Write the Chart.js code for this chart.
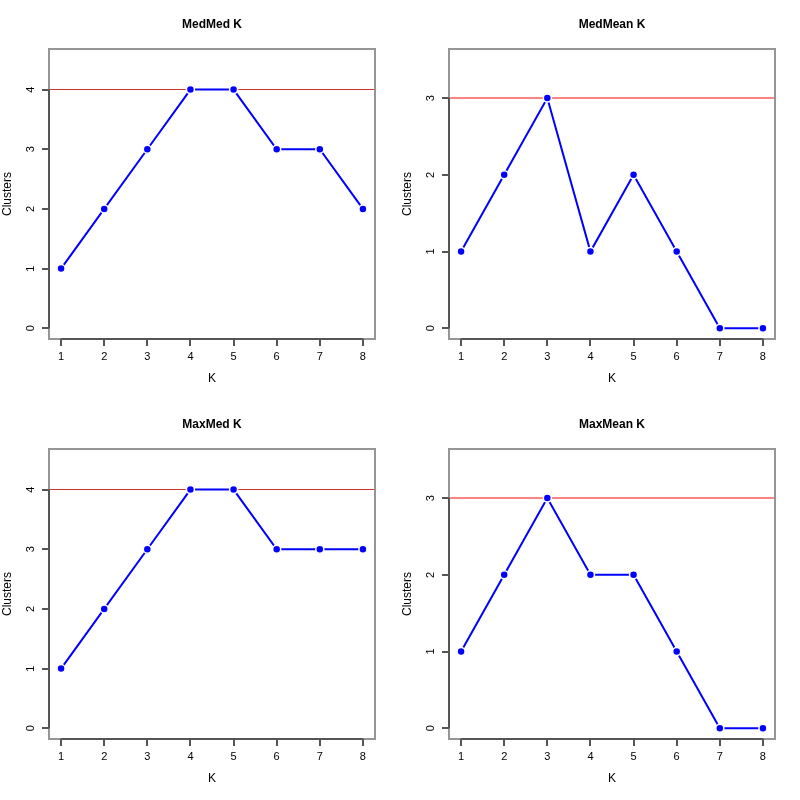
<!DOCTYPE html>
<html>
<head>
<meta charset="utf-8">
<script src="https://cdn.jsdelivr.net/npm/chart.js@4/dist/chart.umd.min.js"></script>
<style>
  html, body { margin: 0; padding: 0; background: #fff; }
  .grid { position: relative; width: 800px; height: 800px; }
  .cell { position: absolute; width: 400px; height: 400px; }
</style>
</head>
<body>
<div class="grid">
  <div class="cell" style="left:0;top:0"><canvas id="c_medmed" width="400" height="400"></canvas></div>
  <div class="cell" style="left:400px;top:0"><canvas id="c_medmean" width="400" height="400"></canvas></div>
  <div class="cell" style="left:0;top:400px"><canvas id="c_maxmed" width="400" height="400"></canvas></div>
  <div class="cell" style="left:400px;top:400px"><canvas id="c_maxmean" width="400" height="400"></canvas></div>
</div>
<script>
// K values on the x axis
const kValues = [1, 2, 3, 4, 5, 6, 7, 8];

// cluster counts per panel
const medMed  = [1, 2, 3, 4, 4, 3, 3, 2];
const medMean = [1, 2, 3, 1, 2, 1, 0, 0];
const maxMed  = [1, 2, 3, 4, 4, 3, 3, 3];
const maxMean = [1, 2, 3, 2, 2, 1, 0, 0];

// horizontal reference levels
const refMedMed = 4;
const refMedMean = 3;
const refMaxMed = 4;
const refMaxMean = 3;

const yTicksMed  = [0, 1, 2, 3, 4];
const yTicksMean = [0, 1, 2, 3];

const PANELS = [
  { id: "c_medmed",  title: "MedMed K",  values: medMed,  ref: refMedMed,  yMax: 4.5, yTicks: yTicksMed,  refColor: "rgb(205,55,45)",        refWidth: 1 },
  { id: "c_medmean", title: "MedMean K", values: medMean, ref: refMedMean, yMax: 3.5, yTicks: yTicksMean, refColor: "rgba(255,100,100,0.8)", refWidth: 2 },
  { id: "c_maxmed",  title: "MaxMed K",  values: maxMed,  ref: refMaxMed,  yMax: 4.5, yTicks: yTicksMed,  refColor: "rgb(205,55,45)",        refWidth: 1 },
  { id: "c_maxmean", title: "MaxMean K", values: maxMean, ref: refMaxMean, yMax: 3.5, yTicks: yTicksMean, refColor: "rgba(255,100,100,0.8)", refWidth: 2 },
];

const FONT = "'Liberation Sans', Arial, Helvetica, sans-serif";

// R-style extension of 4% on each side
const ext = (lo, hi) => { const d = (hi - lo) * 0.04; return [lo - d, hi + d]; };

// draws the reference line under the data
const refLinePlugin = {
  id: "refLine",
  beforeDatasetsDraw(chart, args, opts) {
    const { ctx, chartArea } = chart;
    const py = chart.scales.y.getPixelForValue(opts.value);
    const y = opts.width % 2 ? Math.floor(py) + 0.5 : Math.round(py);
    ctx.save();
    ctx.strokeStyle = opts.color;
    ctx.lineWidth = opts.width;
    ctx.beginPath();
    ctx.moveTo(chartArea.left, y);
    ctx.lineTo(chartArea.right, y);
    ctx.stroke();
    ctx.restore();
  }
};

// base-graphics look: box, axes with outward ticks, labels, title
const rFramePlugin = {
  id: "rFrame",
  afterDraw(chart, args, opts) {
    const { ctx, chartArea: a } = chart;
    const xs = chart.scales.x, ys = chart.scales.y;
    ctx.save();
    // box
    ctx.strokeStyle = "#959595";
    ctx.lineWidth = 2;
    ctx.strokeRect(a.left, a.top, a.right - a.left, a.bottom - a.top);

    ctx.strokeStyle = "#555";
    ctx.lineWidth = 2;
    // x axis
    const x0 = xs.getPixelForValue(opts.xTicks[0]);
    const x1 = xs.getPixelForValue(opts.xTicks[opts.xTicks.length - 1]);
    ctx.beginPath();
    ctx.moveTo(x0, a.bottom); ctx.lineTo(x1, a.bottom);
    opts.xTicks.forEach(v => {
      const px = Math.round(xs.getPixelForValue(v));
      ctx.moveTo(px, a.bottom); ctx.lineTo(px, a.bottom + 7);
    });
    // y axis
    const y0 = ys.getPixelForValue(opts.yTicks[0]);
    const y1 = ys.getPixelForValue(opts.yTicks[opts.yTicks.length - 1]);
    ctx.moveTo(a.left, y0); ctx.lineTo(a.left, y1);
    opts.yTicks.forEach(v => {
      const py = Math.round(ys.getPixelForValue(v));
      ctx.moveTo(a.left, py); ctx.lineTo(a.left - 7, py);
    });
    ctx.stroke();

    ctx.fillStyle = "#000";
    ctx.font = "11px " + FONT;
    ctx.textAlign = "center";
    ctx.textBaseline = "middle";
    opts.xTicks.forEach(v => {
      ctx.fillText(String(v), xs.getPixelForValue(v), a.bottom + 18);
    });
    opts.yTicks.forEach(v => {
      ctx.save();
      ctx.translate(a.left - 18, ys.getPixelForValue(v));
      ctx.rotate(-Math.PI / 2);
      ctx.fillText(String(v), 0, 0);
      ctx.restore();
    });

    // axis titles
    ctx.font = "12px " + FONT;
    ctx.fillText("K", (a.left + a.right) / 2, a.bottom + 40);
    ctx.save();
    ctx.translate(8, (a.top + a.bottom) / 2);
    ctx.rotate(-Math.PI / 2);
    ctx.fillText("Clusters", 0, 0);
    ctx.restore();

    // main title
    ctx.font = "bold 12px " + FONT;
    ctx.fillText(opts.title, (a.left + a.right) / 2, 25);
    ctx.restore();
  }
};

PANELS.forEach(p => {
  const [xMin, xMax] = ext(kValues[0], kValues[kValues.length - 1]);
  const [yMin, yMax] = ext(0, p.yMax);
  new Chart(document.getElementById(p.id).getContext("2d"), {
    type: "line",
    data: {
      datasets: [{
        data: kValues.map((k, i) => ({ x: k, y: p.values[i] })),
        borderColor: "#0000ff",
        borderWidth: 2,
        pointRadius: 4,
        pointBackgroundColor: "#0000ff",
        pointBorderColor: "#ffffff",
        pointBorderWidth: 1.5,
        tension: 0,
        fill: false,
      }]
    },
    options: {
      responsive: false,
      devicePixelRatio: 1,
      animation: false,
      layout: { padding: { left: 49, top: 49, right: 25, bottom: 61 } },
      plugins: {
        legend: { display: false },
        tooltip: { enabled: false },
        refLine: { value: p.ref, color: p.refColor, width: p.refWidth },
        rFrame: { title: p.title, xTicks: kValues, yTicks: p.yTicks },
      },
      scales: {
        x: { type: "linear", display: false, min: xMin, max: xMax },
        y: { type: "linear", display: false, min: yMin, max: yMax },
      }
    },
    plugins: [refLinePlugin, rFramePlugin]
  });
});
</script>
</body>
</html>
